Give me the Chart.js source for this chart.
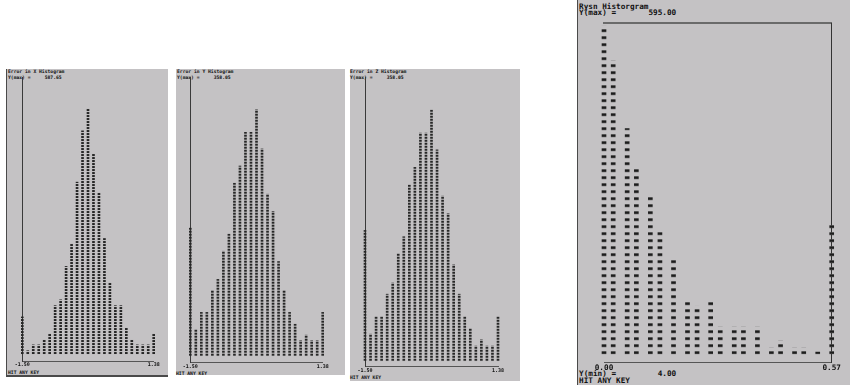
<!DOCTYPE html>
<html>
<head>
<meta charset="utf-8">
<script src="https://cdn.jsdelivr.net/npm/chart.js@4.4.0/dist/chart.umd.min.js"></script>
<style>
    body { margin: 0; width: 850px; height: 392px; background: #fff; position: relative; overflow: hidden;
           font-family: "DejaVu Sans Mono", monospace; font-weight: bold; color: #111; }
    .panel { position: absolute; background: #c4c2c4; }
    .edge { position: absolute; background: #4a4a4a; }
    .txt { position: absolute; white-space: pre; }
    .small { font-size: 4.7px; line-height: 6px; }
    .big { font-size: 7.7px; line-height: 6.7px; }
    canvas { position: absolute; }
</style>
</head>
<body>
<div class="panel" style="left:7px;top:69px;width:161px;height:307px"></div>
<div class="edge" style="left:6px;top:69px;width:1px;height:308px"></div>
<div class="edge" style="left:6px;top:375px;width:162px;height:2px"></div>
<div class="panel" style="left:176px;top:69px;width:169px;height:306px"></div>
<div class="panel" style="left:350px;top:69px;width:170px;height:312px"></div>
<div class="panel" style="left:578px;top:0px;width:272px;height:385px"></div>
<div class="edge" style="left:577px;top:0px;width:1px;height:385px"></div>

<div class="txt small" style="left:8px;top:69px">Error in X Histogram
Y(max) =     587.65</div>
<div class="txt small" style="left:8px;top:369.5px">HIT ANY KEY</div>
<div class="txt small" style="left:177px;top:69px">Error in Y Histogram
Y(max) =     358.05</div>
<div class="txt small" style="left:176px;top:371px">HIT ANY KEY</div>
<div class="txt small" style="left:350px;top:69px">Error in Z Histogram
Y(max) =     358.05</div>
<div class="txt small" style="left:350px;top:375px">HIT ANY KEY</div>
<div class="txt big" style="left:579px;top:3.5px">Rysn Historgram
Y(max) =       595.00</div>
<div class="txt big" style="left:579px;top:371px">Y(min) =         4.00
HIT ANY KEY</div>

<canvas id="hist_x" width="161" height="307" style="left:7px;top:69px"></canvas>
<canvas id="hist_y" width="169" height="305" style="left:176px;top:69px"></canvas>
<canvas id="hist_z" width="170" height="313" style="left:350px;top:69px"></canvas>
<canvas id="hist_rysn" width="272" height="385" style="left:578px;top:0px"></canvas>

<script>
// bin centres of the three error histograms (-1.50 .. 1.38)
const err_bins = ['-1.50', '-1.38', '-1.26', '-1.14', '-1.02', '-0.90', '-0.78', '-0.66', '-0.54',
    '-0.42', '-0.30', '-0.18', '-0.06', '0.06', '0.18', '0.30', '0.42', '0.54', '0.66', '0.78',
    '0.90', '1.02', '1.14', '1.26', '1.38'];
const err_x = [89, 8, 22, 22, 34, 49, 116, 130, 210, 264, 412, 535, 588, 479, 386, 277, 170, 116, 116, 62, 34, 22, 22, 22, 49];
const err_y = [186, 38, 63, 63, 95, 111, 152, 177, 251, 276, 325, 325, 358, 301, 235, 210, 137, 95, 63, 46, 22, 30, 22, 22, 63];
const err_z = [186, 38, 63, 63, 95, 111, 153, 177, 251, 276, 325, 325, 358, 301, 235, 210, 137, 95, 63, 46, 21, 30, 21, 21, 63];

const rysn_bins = [0.000, 0.023, 0.058, 0.081, 0.116, 0.140, 0.174, 0.209, 0.233, 0.267,
    0.291, 0.326, 0.349, 0.384, 0.419, 0.442, 0.477, 0.500, 0.535, 0.570];
const rysn_counts = [595, 533, 409, 335, 285, 223, 174, 99, 87, 99, 50, 50, 50, 50, 12, 25, 12, 12, 4, 236];
const rysn_ticks = [0, 0.57];

const mono = 'DejaVu Sans Mono';

// one column of text glyphs, repeated upwards
function glyph_fill(height, rows) {
    const tile = document.createElement('canvas');
    tile.width = 1;
    tile.height = height;
    const g = tile.getContext('2d');
    for (const [y, color] of rows) {
        g.fillStyle = color;
        g.fillRect(0, y, 1, 1);
    }
    return g.createPattern(tile, 'repeat');
}

// start the glyph rows at the bar base
const pin_glyphs = {
    id: 'pin_glyphs',
    beforeDatasetsDraw(chart) {
        const base = chart.scales.y.getPixelForValue(0);
        chart.data.datasets[0].backgroundColor.setTransform(new DOMMatrix([1, 0, 0, 1, 0, base]));
    }
};

function error_histogram(id, counts, y_range, padding) {
    return new Chart(document.getElementById(id), {
        type: 'bar',
        data: {
            labels: err_bins,
            datasets: [{
                data: counts,
                backgroundColor: glyph_fill(3, [[1, '#262626'], [2, '#262626']]),
                barThickness: 2,
                clip: false,
            }]
        },
        options: {
            responsive: false,
            animation: false,
            layout: { padding: padding },
            plugins: { legend: { display: false }, tooltip: { enabled: false } },
            scales: {
                x: {
                    offset: false,
                    grid: { display: false, drawTicks: false },
                    border: { color: '#555', width: 1 },
                    ticks: {
                        autoSkip: false, maxRotation: 0, padding: 1, color: '#111',
                        font: { family: mono, size: 5, weight: 'bold' },
                        callback: (v, i, t) => (i === 0 || i === t.length - 1) ? err_bins[i] : ''
                    }
                },
                y: {
                    min: y_range[0],
                    max: y_range[1],
                    grid: { display: false, drawTicks: false },
                    ticks: { display: false },
                    border: { color: '#3a3a3a', width: 1, dash: [2, 2] }
                }
            }
        },
        plugins: [pin_glyphs]
    });
}

error_histogram('hist_x', err_x, [-16.7, 664], { left: 15.3, right: 14.3, top: 8, bottom: 7 });
error_histogram('hist_y', err_y, [-9.6, 405.5], { left: 14.3, right: 22.3, top: 8, bottom: 3.7 });
error_histogram('hist_z', err_z, [-8.5, 405], { left: 15, right: 22, top: 8, bottom: 7.3 });

new Chart(document.getElementById('hist_rysn'), {
    type: 'bar',
    data: {
        labels: rysn_bins,
        datasets: [{
            data: rysn_counts,
            backgroundColor: glyph_fill(7, [[4, '#3a3a3a'], [5, '#161616'], [6, '#3a3a3a']]),
            barThickness: 4,
            clip: false,
        }]
    },
    options: {
        responsive: false,
        animation: false,
        layout: { padding: { left: 26, right: 18.3, top: 23.3, bottom: 11.3 } },
        plugins: { legend: { display: false }, tooltip: { enabled: false } },
        scales: {
            x: {
                type: 'linear',
                min: 0,
                max: 0.57,
                offset: false,
                afterBuildTicks: s => { s.ticks = rysn_ticks.map(v => ({ value: v })); },
                grid: { display: false, drawTicks: false },
                border: { color: '#555', width: 1 },
                ticks: {
                    maxRotation: 0, padding: 1, color: '#111',
                    font: { family: mono, size: 7.7, weight: 'bold' },
                    callback: v => v.toFixed(2)
                }
            },
            top: {
                type: 'linear',
                position: 'top',
                min: 0,
                max: 0.57,
                grid: { display: false, drawTicks: false },
                ticks: { display: false },
                border: { color: '#6a6a6a', width: 2 }
            },
            y: {
                position: 'right',
                min: -15,
                max: 600,
                grid: { display: false, drawTicks: false },
                ticks: { display: false },
                border: { color: '#333', width: 1, dash: [2, 2] }
            }
        }
    },
    plugins: [pin_glyphs]
});
</script>
</body>
</html>
